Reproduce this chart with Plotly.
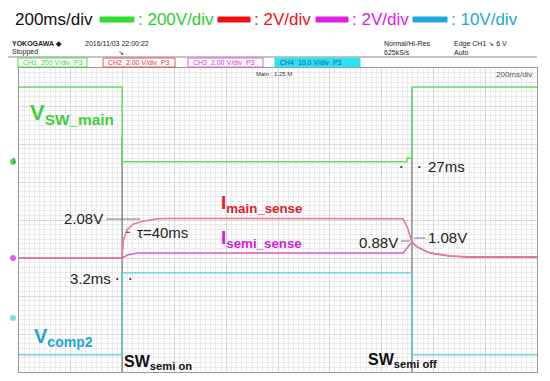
import plotly.graph_objs as go

# time axis in ms (10 div x 200 ms), vertical axis in screen divisions (0..8)
green_t = [0, 398, 398, 1498, 1498, 1517, 1517, 2000]
green_v = [7.5, 7.5, 5.53, 5.53, 5.63, 5.63, 7.5, 7.5]

red_t = [0, 398, 403, 417, 440, 479, 533, 571, 1483, 1500, 1517, 1537, 1587, 1664, 1741, 2000]
red_v = [3.0, 3.0, 3.47, 3.74, 3.89, 3.97, 4.03, 4.04, 4.03, 3.8, 3.42, 3.29, 3.13, 3.05, 3.03, 3.03]

magenta_t = [0, 398, 420, 456, 1483, 1517, 1537, 1587, 1664, 1741, 2000]
magenta_v = [3.0, 3.0, 3.08, 3.13, 3.13, 3.42, 3.29, 3.13, 3.05, 3.02, 3.02]

cyan_t = [0, 398, 398, 1517, 1517, 2000]
cyan_v = [0.45, 0.45, 2.61, 2.61, 0.45, 0.45]

cursor_t = [398, 1517]
cursor_top = [6.16, 7.47]

# channel ground markers on the left edge (screen divisions)
marker_levels = [5.53, 3.0, 1.42]
marker_colors = ['#5cd65c', '#e060e0', '#80e0e8']

# page body has an 8px margin, so the figure is drawn 8px smaller and offset
PAGE = 8
W, H = 550 - PAGE, 381 - PAGE
L, R, T, B = 19, 537, 68, 372
FONT = 'Liberation Sans, Arial, sans-serif'


def px(x):
    return (x - L) / (R - L)


def py(y):
    return (B - y) / (B - T)


def label(x, y, text, size, color, xanchor='left', bold=False):
    if bold:
        text = '<b>' + text + '</b>'
    return dict(x=px(x), y=py(y), xref='paper', yref='paper', text=text, showarrow=False,
                xanchor=xanchor, yanchor='middle', font=dict(family=FONT, size=size, color=color))


def hline(x0, x1, y, color, width=1):
    return dict(type='line', xref='paper', yref='paper', x0=px(x0), x1=px(x1), y0=py(y), y1=py(y),
                line=dict(color=color, width=width))


def box(x0, x1, y0, y1, line, fill='rgba(0,0,0,0)'):
    return dict(type='rect', xref='paper', yref='paper', x0=px(x0), x1=px(x1), y0=py(y1), y1=py(y0),
                line=dict(color=line, width=1), fillcolor=fill)


fig = go.Figure()

for t, top in zip(cursor_t, cursor_top):
    fig.add_trace(go.Scatter(x=[t, t], y=[0, top], mode='lines',
                             line=dict(color='#8c8c8c', width=1.5), hoverinfo='skip'))

fig.add_trace(go.Scatter(x=cyan_t, y=cyan_v, mode='lines', line=dict(color='#5ccbd9', width=1.3)))
fig.add_trace(go.Scatter(x=magenta_t, y=magenta_v, mode='lines', line=dict(color='#d95ad9', width=1.5)))
fig.add_trace(go.Scatter(x=red_t, y=red_v, mode='lines', line=dict(color='#e9798a', width=1.5)))
fig.add_trace(go.Scatter(x=green_t, y=green_v, mode='lines', line=dict(color='#66dd66', width=1.5)))

annotations = [
    # header line
    label(13, 19, '200ms/div', 17, '#111111'),
    label(136, 19, ': 200V/div', 17, '#2ecc2e'),
    label(252, 19, ': 2V/div', 17, '#ee1111'),
    label(350, 19, ': 2V/div', 17, '#e020e0'),
    label(449, 19, ': 10V/div', 17, '#20a8dc'),
    # scope status
    label(10, 44, 'YOKOGAWA ◆', 7, '#222222', bold=True),
    label(83, 44, '2016/11/03 22:00:22', 7, '#222222'),
    label(10, 52, 'Stopped', 7, '#222222'),
    label(116, 52, '↘', 7, '#222222'),
    label(382, 44, 'Normal/Hi-Res', 7, '#222222'),
    label(382, 52, '625kS/s', 7, '#222222'),
    label(452, 44, 'Edge CH1 ↘ 6 V', 7, '#222222'),
    label(452, 52, 'Auto', 7, '#222222'),
    label(21, 62.5, 'CH1  200 V/div  P3', 7, '#3fcf3f'),
    label(106, 62.5, 'CH2  2.00 V/div  P3', 7, '#e83030'),
    label(191, 62.5, 'CH3  2.00 V/div  P3', 7, '#d030d0'),
    label(278, 62.5, 'CH4  10.0 V/div  P3', 7, '#1a50c0'),
    label(254, 74, 'Main : 1.25 M', 6, '#333333'),
    label(534, 74, '200ms/div', 8, '#555555', xanchor='right'),
    label(10, 160, '1', 7, '#2e9e2e', bold=True),
    # trace names
    label(28, 114, 'V<sub>SW_main</sub>', 22, '#3fcf3f', bold=True),
    label(219, 204, 'I<sub>main_sense</sub>', 19, '#e8192c', bold=True),
    label(219, 239, 'I<sub>semi_sense</sub>', 19, '#d41fd4', bold=True),
    label(32, 337, 'V<sub>comp2</sub>', 20, '#1fa5d8', bold=True),
    label(122, 362, 'SW<sub>semi on</sub>', 16, '#111111', bold=True),
    label(366, 360, 'SW<sub>semi off</sub>', 16, '#111111', bold=True),
    # measurements
    label(105, 218, '2.08V', 15, '#222222', xanchor='right'),
    label(124, 232, '••', 6, '#222222'),
    label(135, 232, 'τ=40ms', 15, '#222222'),
    label(113, 278, '3.2ms', 15, '#222222', xanchor='right'),
    label(114, 278, '•', 7, '#222222'),
    label(127, 278, '•', 7, '#222222'),
    label(398, 166, '•', 7, '#222222'),
    label(416, 166, '•', 7, '#222222'),
    label(426, 166, '27ms', 15, '#222222'),
    label(400, 243, '0.88V', 15, '#222222', xanchor='right'),
    label(426, 237, '1.08V', 15, '#222222'),
]

shapes = [
    # header colour keys
    box(100, 134, 17, 22, '#33dd33', '#33dd33'),
    box(218, 250, 17, 22, '#ee1111', '#ee1111'),
    box(316, 348, 17, 22, '#e020e0', '#e020e0'),
    box(413, 447, 17, 22, '#20a8dc', '#20a8dc'),
    hline(8, 537, 57, '#888888'),
    # channel boxes
    box(18, 87, 58, 67, '#4fd84f'),
    box(103, 175, 58, 67, '#ee5555'),
    box(188, 263, 58, 67, '#e060e0'),
    box(275, 360, 58, 67, '#30e0f0', '#30e0f0'),
    # measurement leader lines
    hline(106, 140, 219, '#777777'),
    hline(401, 410, 241, '#777777'),
    hline(414, 425, 238, '#777777'),
]

# ground markers, placed in y-axis units just left of the screen
for level, colour in zip(marker_levels, marker_colors):
    shapes.append(dict(type='circle', xref='paper', yref='y', x0=px(10), x1=px(16),
                       y0=level - 0.08, y1=level + 0.08, fillcolor=colour, line=dict(width=0)))

layout = go.Layout(
    width=W, height=H,
    margin=dict(l=L - PAGE, r=W - (R - PAGE), t=T - PAGE, b=H - (B - PAGE), pad=0),
    paper_bgcolor='white', plot_bgcolor='white',
    showlegend=False,
    xaxis=dict(range=[0, 2000], dtick=200, tick0=0, showticklabels=False, ticks='',
               showgrid=True, gridcolor='#d8d8d8', zeroline=False,
               showline=True, linecolor='#9a9a9a', mirror=True,
               minor=dict(dtick=20, showgrid=True, gridcolor='#ebebeb')),
    yaxis=dict(range=[0, 8], dtick=1, tick0=0, showticklabels=False, ticks='',
               showgrid=True, gridcolor='#d8d8d8', zeroline=False,
               showline=True, linecolor='#9a9a9a', mirror=True,
               minor=dict(dtick=0.125, showgrid=True, gridcolor='#ebebeb')),
    annotations=annotations,
    shapes=shapes,
)

fig.update_layout(layout)
fig.write_html('out.html')
